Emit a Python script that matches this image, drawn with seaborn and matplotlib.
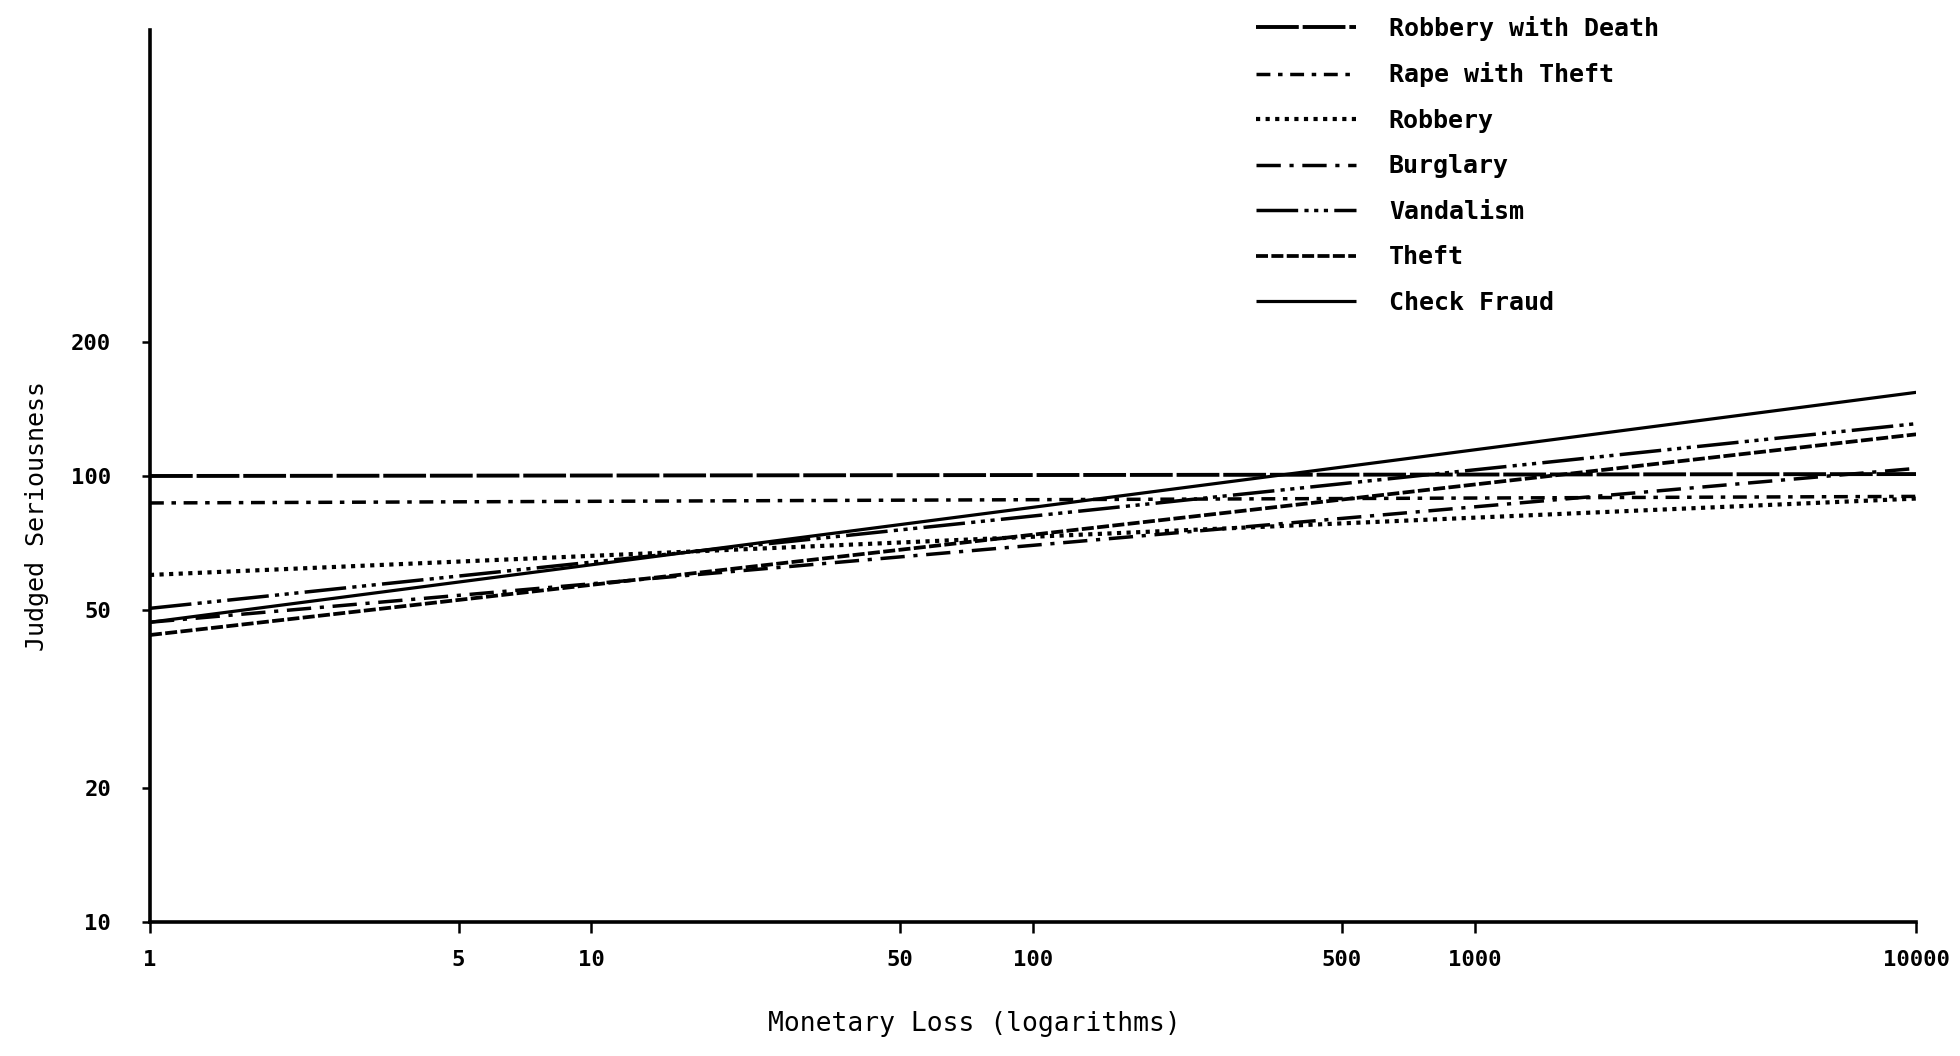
import matplotlib
matplotlib.use("Agg")
import matplotlib.pyplot as plt
import seaborn as sns
import pandas as pd

# ---- data (judged seriousness at $1 and at $10000) ----
crimes = ["Robbery with Death", "Rape with Theft", "Robbery", "Burglary",
          "Vandalism", "Theft", "Check Fraud"]
loss_range = [1, 10000]
seriousness_at_1 = [100, 87, 60, 47, 50.5, 44, 47]
seriousness_at_10000 = [101, 90, 89, 104, 131, 124, 154]

x_ticks = [1, 5, 10, 50, 100, 500, 1000, 10000]
x_tick_labels = ["1", "5", "10", "50", "100", "500", "1000", "10000"]
y_ticks = [10, 20, 50, 100, 200]
y_tick_labels = ["10", "20", "50", "100", "200"]

# ---- styles ----
line_styles = {
    "Robbery with Death": dict(lw=2.8, dashes=(11, 1.0)),
    "Rape with Theft":    dict(lw=2.5, dashes=(4, 2.2, 1.3, 2.2)),
    "Robbery":            dict(lw=3.0, dashes=(1.0, 1.3)),
    "Burglary":           dict(lw=2.5, dashes=(7, 2.5, 1.2, 2.5)),
    "Vandalism":          dict(lw=2.5, dashes=(12, 1.8, 1.2, 1.6, 1.2, 1.6, 1.2, 1.8)),
    "Theft":              dict(lw=2.7, dashes=(3.2, 0.9)),
    "Check Fraud":        dict(lw=2.3, dashes=None),
}

sns.set_style("ticks")
plt.rcParams["font.family"] = ["DejaVu Sans Mono", "DejaVu Sans"]
plt.rcParams["text.color"] = "black"
plt.rcParams["axes.labelcolor"] = "black"

fig = plt.figure(figsize=(19.6, 10.56), dpi=100)
ax = fig.add_axes([0.0765, 0.1269, 0.9776 - 0.0765, 0.9716 - 0.1269])

handles = []
for name, y0, y1 in zip(crimes, seriousness_at_1, seriousness_at_10000):
    df = pd.DataFrame({"loss": loss_range, "seriousness": [y0, y1]})
    n_before = len(ax.lines)
    sns.lineplot(data=df, x="loss", y="seriousness", ax=ax, color="black",
                 linewidth=line_styles[name]["lw"], legend=False)
    ln = ax.lines[n_before]
    d = line_styles[name]["dashes"]
    if d is not None:
        ln.set_linestyle((0, d))
    ln.set_solid_capstyle("butt")
    ln.set_dash_capstyle("butt")
    ln.set_label(name)
    handles.append(ln)

ax.set_xscale("log")
ax.set_yscale("log")
ax.set_xlim(1, 10000)
ax.set_ylim(10, 1000)

ax.set_xticks(x_ticks)
ax.set_xticklabels(x_tick_labels, fontweight="bold")
ax.set_yticks(y_ticks)
ax.set_yticklabels(y_tick_labels, fontweight="bold")
ax.minorticks_off()

ax.tick_params(axis="x", direction="out", length=8, width=1.8, pad=12,
               labelsize=16, colors="black")
ax.tick_params(axis="y", direction="out", length=6, width=1.8, pad=22,
               labelsize=16, colors="black")

for side in ["top", "right"]:
    ax.spines[side].set_visible(False)
for side in ["left", "bottom"]:
    ax.spines[side].set_linewidth(2.6)
    ax.spines[side].set_color("black")

ax.set_xlabel("Monetary Loss (logarithms)", fontsize=19, color="black")
ax.set_ylabel("Judged Seriousness", fontsize=18, color="black")
ax.xaxis.set_label_coords(0.467, -0.1)
ax.yaxis.set_label_coords(-0.057, 0.455)
ax.grid(False)

leg = fig.legend(handles=handles, labels=crimes, loc="upper left",
                 bbox_to_anchor=(0.641, 0.985), bbox_transform=fig.transFigure,
                 frameon=False, prop={"size": 18, "weight": "bold"},
                 handlelength=4.0, handletextpad=1.3, labelspacing=0.86,
                 borderpad=0, borderaxespad=0, labelcolor="black")

fig.savefig("out.png", dpi=100, facecolor="white")
